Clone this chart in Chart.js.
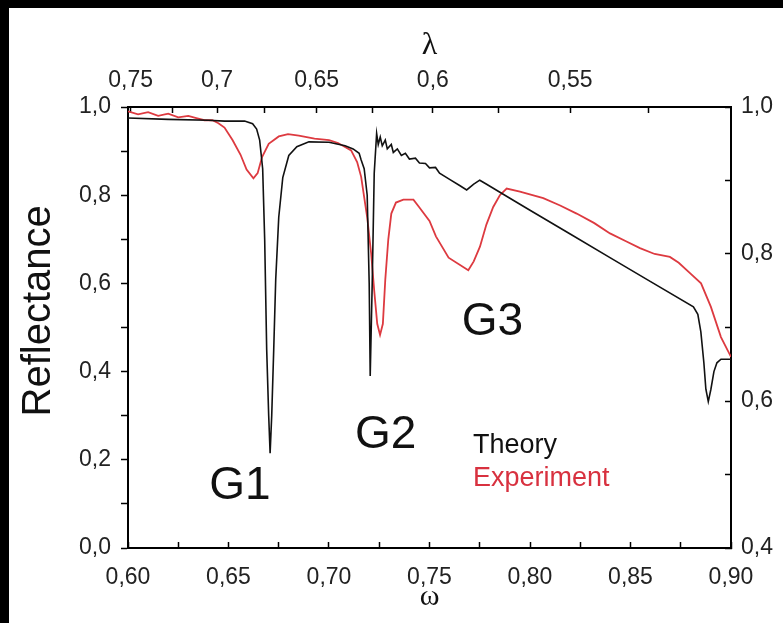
<!doctype html>
<html>
<head>
    <title>Reflectance</title>
    <script src="https://cdn.jsdelivr.net/npm/chart.js"></script>
    <style>
        body { margin: 0; background: #000; }
        #box { position: absolute; left: 9px; top: 8px; width: 774px; height: 615px; background: #fff; }
    </style>
</head>
<body>
<div id="box"><canvas id="grafico" width="774" height="615"></canvas></div>
<script>
    // theory curve (left axis)
    var omegaTheory = [0.600, 0.620, 0.640, 0.648, 0.658, 0.662, 0.664, 0.6655, 0.667, 0.668, 0.669, 0.670, 0.6707,
        0.6715, 0.6725, 0.6735, 0.675, 0.677, 0.680, 0.684, 0.690, 0.700, 0.708, 0.712, 0.715, 0.716, 0.7175,
        0.719, 0.720, 0.7205, 0.7215, 0.7225, 0.7237, 0.7245, 0.7255, 0.7265, 0.728, 0.729, 0.731, 0.732, 0.734,
        0.736, 0.738, 0.740, 0.743, 0.745, 0.748, 0.750, 0.753, 0.755, 0.760, 0.765, 0.7685, 0.772, 0.775,
        0.778, 0.790, 0.800, 0.820, 0.840, 0.860, 0.8813, 0.8835, 0.885, 0.8865, 0.8875, 0.8887, 0.890,
        0.8915, 0.893, 0.895, 0.900];
    var rTheory = [0.975, 0.972, 0.970, 0.968, 0.968, 0.962, 0.950, 0.925, 0.86, 0.70, 0.45, 0.30, 0.215,
        0.30, 0.45, 0.61, 0.75, 0.84, 0.89, 0.91, 0.921, 0.920, 0.912, 0.905, 0.895, 0.880, 0.86,
        0.80, 0.60, 0.39, 0.60, 0.85, 0.940, 0.915, 0.932, 0.912, 0.925, 0.905, 0.915, 0.897, 0.905,
        0.890, 0.895, 0.882, 0.884, 0.873, 0.872, 0.862, 0.863, 0.850, 0.836, 0.822, 0.812, 0.825, 0.834,
        0.826, 0.793, 0.766, 0.712, 0.658, 0.604, 0.547, 0.530, 0.49, 0.42, 0.36, 0.332, 0.36,
        0.40, 0.42, 0.428, 0.428];

    // experiment curve (right axis)
    var omegaExp = [0.600, 0.605, 0.610, 0.615, 0.620, 0.625, 0.630, 0.634, 0.638, 0.642, 0.645, 0.648, 0.652,
        0.656, 0.659, 0.6624, 0.6645, 0.6667, 0.670, 0.675, 0.6796, 0.685, 0.6928, 0.700, 0.7045, 0.711,
        0.714, 0.716, 0.719, 0.721, 0.7225, 0.724, 0.7254, 0.7268, 0.728, 0.7295, 0.731, 0.7333, 0.737,
        0.742, 0.7448, 0.750, 0.7532, 0.7595, 0.7693, 0.772, 0.7751, 0.7783, 0.7817, 0.785, 0.7884, 0.795,
        0.8066, 0.815, 0.8232, 0.832, 0.8398, 0.848, 0.8547, 0.862, 0.8696, 0.874, 0.8796, 0.8851, 0.890,
        0.895, 0.900];
    var rExp = [0.994, 0.990, 0.993, 0.988, 0.991, 0.986, 0.988, 0.985, 0.982, 0.982, 0.978, 0.972, 0.955,
        0.935, 0.915, 0.903, 0.910, 0.932, 0.950, 0.960, 0.963, 0.961, 0.957, 0.955, 0.951, 0.941,
        0.925, 0.905, 0.85, 0.80, 0.75, 0.705, 0.690, 0.705, 0.765, 0.820, 0.855, 0.870, 0.874,
        0.874, 0.864, 0.845, 0.824, 0.795, 0.778, 0.790, 0.810, 0.840, 0.864, 0.880, 0.889, 0.885,
        0.876, 0.866, 0.855, 0.842, 0.828, 0.817, 0.808, 0.800, 0.796, 0.788, 0.774, 0.760, 0.728,
        0.687, 0.660];

    // axis ticks
    var omegaTicks = [0.60, 0.625, 0.65, 0.675, 0.70, 0.725, 0.75, 0.775, 0.80, 0.825, 0.85, 0.875, 0.90];
    var omegaLabels = ['0,60', '', '0,65', '', '0,70', '', '0,75', '', '0,80', '', '0,85', '', '0,90'];
    var lambdaTicks = [0.75, 0.725, 0.70, 0.675, 0.65, 0.625, 0.60, 0.575, 0.55, 0.525];
    var lambdaLabels = ['0,75', '', '0,7', '', '0,65', '', '0,6', '', '0,55', ''];
    var leftTicks = [0, 0.1, 0.2, 0.3, 0.4, 0.5, 0.6, 0.7, 0.8, 0.9, 1.0];
    var leftLabels = ['0,0', '', '0,2', '', '0,4', '', '0,6', '', '0,8', '', '1,0'];
    var rightTicks = [0.4, 0.5, 0.6, 0.7, 0.8, 0.9, 1.0];
    var rightLabels = ['0,4', '', '0,6', '', '0,8', '', '1,0'];
    var lambdaK = 0.451; // lambda = K / omega

    var fonte = { family: "'Liberation Sans', Arial, sans-serif", size: 23 };

    function pontos(xs, ys) {
        return xs.map(function (x, i) { return { x: x, y: ys[i] }; });
    }

    function fixarTicks(valores) {
        return function (scale) {
            scale.ticks = valores.map(function (v) { return { value: v }; });
        };
    }

    var textos = {
        id: 'textos',
        afterDatasetsDraw: function (chart) {
            var ctx = chart.ctx, x = chart.scales.x, y = chart.scales.y;
            ctx.save();
            ctx.textAlign = 'center';
            ctx.textBaseline = 'middle';
            ctx.fillStyle = '#111';
            ctx.font = "46px 'Liberation Sans', Arial, sans-serif";
            ctx.fillText('G1', x.getPixelForValue(0.6557), y.getPixelForValue(0.141));
            ctx.fillText('G2', x.getPixelForValue(0.7282), y.getPixelForValue(0.255));
            ctx.fillText('G3', x.getPixelForValue(0.7813), y.getPixelForValue(0.511));
            ctx.textAlign = 'left';
            ctx.textBaseline = 'alphabetic';
            ctx.font = "27px 'Liberation Sans', Arial, sans-serif";
            ctx.fillText('Theory', x.getPixelForValue(0.7716), y.getPixelForValue(0.215));
            ctx.fillStyle = '#d8313f';
            ctx.fillText('Experiment', x.getPixelForValue(0.7716), y.getPixelForValue(0.141));
            ctx.restore();
        }
    };

    var grafico = new Chart(document.getElementById('grafico').getContext('2d'), {
        type: 'line',
        data: {
            datasets: [{
                label: 'Theory',
                data: pontos(omegaTheory, rTheory),
                borderColor: '#111111',
                borderWidth: 1.6,
                pointRadius: 0,
                xAxisID: 'x',
                yAxisID: 'y'
            }, {
                label: 'Experiment',
                data: pontos(omegaExp, rExp),
                borderColor: '#dd3a40',
                borderWidth: 1.8,
                pointRadius: 0,
                xAxisID: 'x',
                yAxisID: 'y2'
            }]
        },
        options: {
            responsive: false,
            animation: false,
            layout: { padding: 0 },
            plugins: { legend: { display: false }, tooltip: { enabled: false } },
            scales: {
                x: {
                    type: 'linear', position: 'bottom', min: 0.6, max: 0.9,
                    afterBuildTicks: fixarTicks(omegaTicks),
                    afterFit: function (s) { s.height = 75; },
                    border: { color: '#000', width: 2 },
                    grid: { drawOnChartArea: false, tickLength: -6, tickColor: '#000', tickWidth: 1.5 },
                    ticks: {
                        autoSkip: false, maxRotation: 0, padding: 22, color: '#222', font: fonte,
                        callback: function (v, i) { return omegaLabels[i]; }
                    },
                    title: {
                        display: true, text: 'ω', color: '#111', padding: { bottom: 8, top: 0 },
                        font: { family: "'Liberation Serif', 'DejaVu Serif', serif", size: 30 }
                    }
                },
                x2: {
                    type: 'linear', position: 'top', min: 0.6, max: 0.9,
                    afterBuildTicks: function (scale) {
                        scale.ticks = lambdaTicks.map(function (l) { return { value: lambdaK / l }; })
                            .filter(function (t) { return t.value <= 0.9; });
                    },
                    afterFit: function (s) { s.height = 99; },
                    border: { color: '#000', width: 2 },
                    grid: { drawOnChartArea: false, tickLength: -6, tickColor: '#000', tickWidth: 1.5 },
                    ticks: {
                        autoSkip: false, maxRotation: 0, padding: 19, color: '#222', font: fonte,
                        callback: function (v, i) { return lambdaLabels[i]; }
                    },
                    title: {
                        display: true, text: 'λ', color: '#111', padding: { top: 18, bottom: 0 },
                        font: { family: "'Liberation Serif', 'DejaVu Serif', serif", size: 32 }
                    }
                },
                y: {
                    type: 'linear', position: 'left', min: 0, max: 1,
                    afterBuildTicks: fixarTicks(leftTicks),
                    afterFit: function (s) { s.width = 119; },
                    border: { color: '#000', width: 2 },
                    grid: { drawOnChartArea: false, tickLength: 7, tickColor: '#000', tickWidth: 1.5 },
                    ticks: {
                        autoSkip: false, padding: 10, color: '#222', font: fonte,
                        callback: function (v, i) { return leftLabels[i]; }
                    },
                    title: {
                        display: true, text: '   Reflectance', color: '#111', padding: { top: 6, bottom: 0 },
                        font: { family: "'Liberation Sans', Arial, sans-serif", size: 40 }
                    }
                },
                y2: {
                    type: 'linear', position: 'right', min: 0.4, max: 1.0,
                    afterBuildTicks: fixarTicks(rightTicks),
                    afterFit: function (s) { s.width = 52; },
                    border: { color: '#000', width: 2 },
                    grid: { drawOnChartArea: false, tickLength: -6, tickColor: '#000', tickWidth: 1.5 },
                    ticks: {
                        autoSkip: false, padding: 16, color: '#222', font: fonte,
                        callback: function (v, i) { return rightLabels[i]; }
                    }
                }
            }
        },
        plugins: [textos]
    });
</script>
</body>
</html>
